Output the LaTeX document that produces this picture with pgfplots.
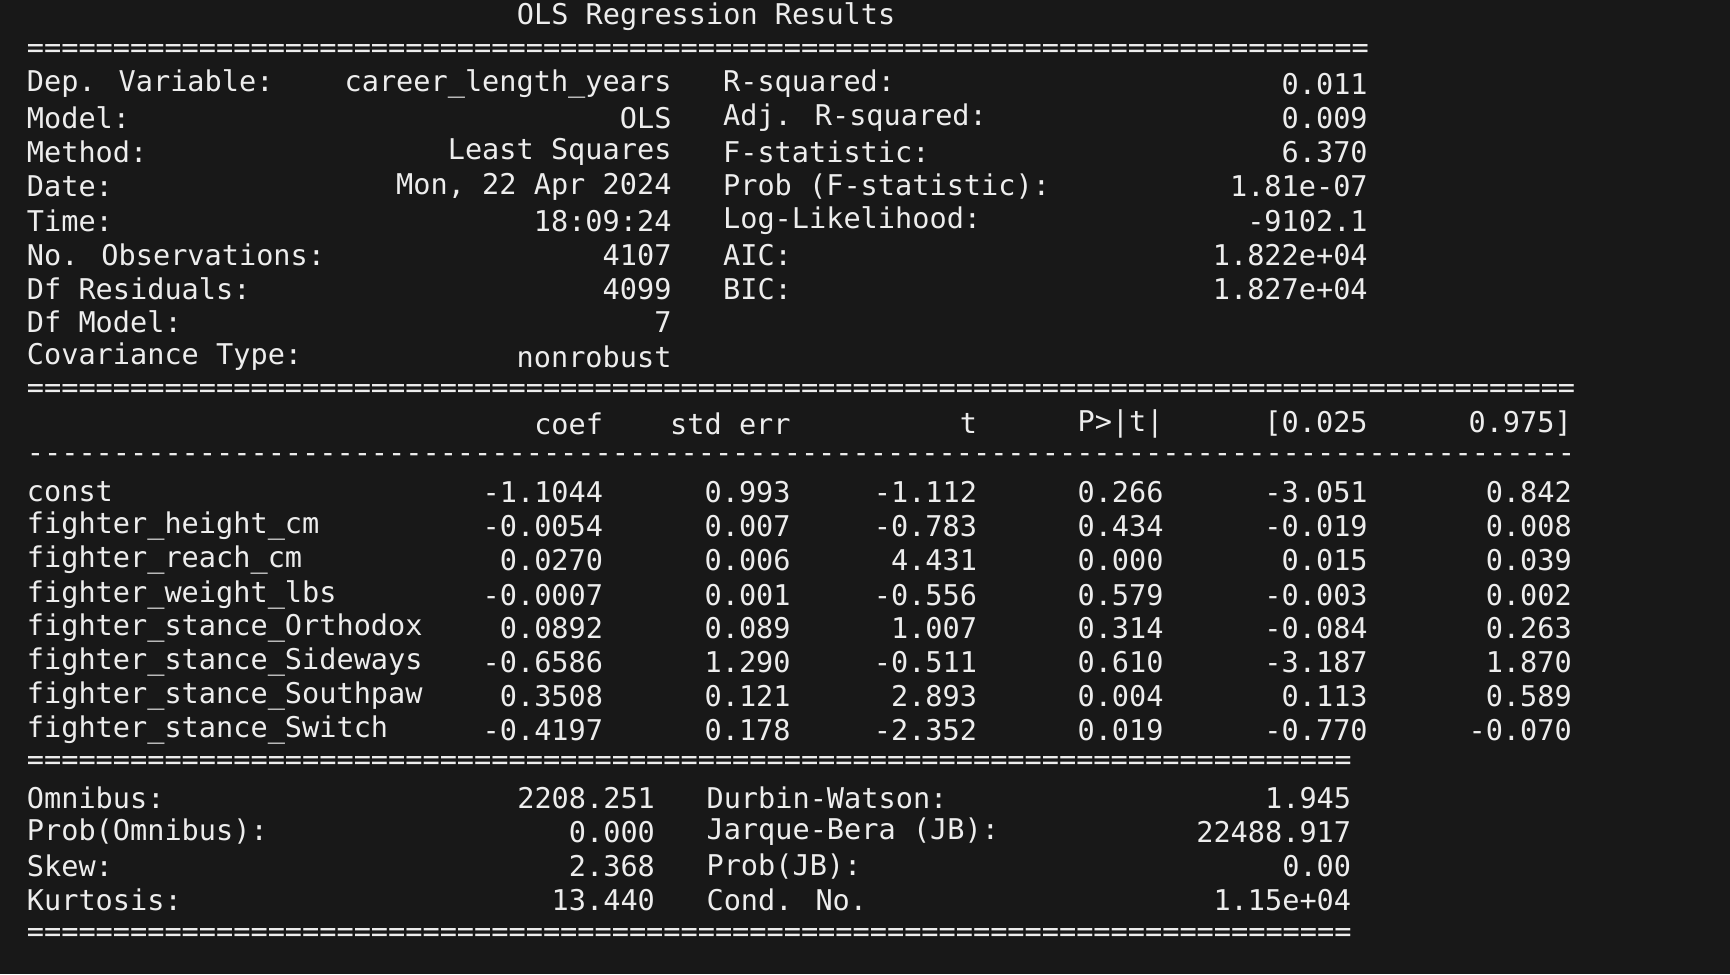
\documentclass[border=0pt]{standalone}
\usepackage{pgfplots}
\pgfplotsset{compat=1.18}
\usepackage{fontspec}
\newfontfamily\mono{DejaVu Sans Mono}
\definecolor{bg}{HTML}{181818}
\definecolor{fg}{HTML}{EDEDED}
\tikzset{tt/.style={inner sep=0pt, text=fg, font=\mono\fontsize{12.95}{15}\selectfont}}
\newcommand\W[3]{\node[tt,anchor=west] at (axis cs:#1,#2) {#3};}
\newcommand\E[3]{\node[tt,anchor=east] at (axis cs:#1,#2) {#3};}
\begin{document}
\begin{tikzpicture}
\begin{axis}[scale only axis, width=784pt, height=441.5pt,
  xmin=0, xmax=1568, ymin=0, ymax=883, y dir=reverse,
  axis lines=none, ticks=none, clip=false,
  axis background/.style={fill=bg, draw=none}]
\node[tt] at (axis cs:640,15) {OLS Regression Results};
\W{24}{46}{==============================================================================}
\W{24}{76}{Dep. Variable:}\E{609}{76}{career\_length\_years}\W{655}{76}{R-squared:}\E{1240}{76}{0.011}
\W{24}{107}{Model:}\E{609}{107}{OLS}\W{655}{107}{Adj. R-squared:}\E{1240}{107}{0.009}
\W{24}{138}{Method:}\E{609}{138}{Least Squares}\W{655}{138}{F-statistic:}\E{1240}{138}{6.370}
\W{24}{169}{Date:}\E{609}{169}{Mon, 22 Apr 2024}\W{655}{169}{Prob (F-statistic):}\E{1240}{169}{1.81e-07}
\W{24}{200}{Time:}\E{609}{200}{18:09:24}\W{655}{200}{Log-Likelihood:}\E{1240}{200}{-9102.1}
\W{24}{231}{No. Observations:}\E{609}{231}{4107}\W{655}{231}{AIC:}\E{1240}{231}{1.822e+04}
\W{24}{262}{Df Residuals:}\E{609}{262}{4099}\W{655}{262}{BIC:}\E{1240}{262}{1.827e+04}
\W{24}{292}{Df Model:}\E{609}{292}{7}
\W{24}{323}{Covariance Type:}\E{609}{323}{nonrobust}
\W{24}{354}{==========================================================================================}
\E{547}{384}{coef}\E{717}{384}{std err}\E{886}{384}{t}\E{1055}{384}{P>|t|}\E{1240}{384}{[0.025}\E{1425}{384}{0.975]}
\W{24}{415}{------------------------------------------------------------------------------------------}
\W{24}{446}{const}\E{547}{446}{-1.1044}\E{717}{446}{0.993}\E{886}{446}{-1.112}\E{1055}{446}{0.266}\E{1240}{446}{-3.051}\E{1425}{446}{0.842}
\W{24}{477}{fighter\_height\_cm}\E{547}{477}{-0.0054}\E{717}{477}{0.007}\E{886}{477}{-0.783}\E{1055}{477}{0.434}\E{1240}{477}{-0.019}\E{1425}{477}{0.008}
\W{24}{508}{fighter\_reach\_cm}\E{547}{508}{0.0270}\E{717}{508}{0.006}\E{886}{508}{4.431}\E{1055}{508}{0.000}\E{1240}{508}{0.015}\E{1425}{508}{0.039}
\W{24}{539}{fighter\_weight\_lbs}\E{547}{539}{-0.0007}\E{717}{539}{0.001}\E{886}{539}{-0.556}\E{1055}{539}{0.579}\E{1240}{539}{-0.003}\E{1425}{539}{0.002}
\W{24}{569}{fighter\_stance\_Orthodox}\E{547}{569}{0.0892}\E{717}{569}{0.089}\E{886}{569}{1.007}\E{1055}{569}{0.314}\E{1240}{569}{-0.084}\E{1425}{569}{0.263}
\W{24}{600}{fighter\_stance\_Sideways}\E{547}{600}{-0.6586}\E{717}{600}{1.290}\E{886}{600}{-0.511}\E{1055}{600}{0.610}\E{1240}{600}{-3.187}\E{1425}{600}{1.870}
\W{24}{631}{fighter\_stance\_Southpaw}\E{547}{631}{0.3508}\E{717}{631}{0.121}\E{886}{631}{2.893}\E{1055}{631}{0.004}\E{1240}{631}{0.113}\E{1425}{631}{0.589}
\W{24}{662}{fighter\_stance\_Switch}\E{547}{662}{-0.4197}\E{717}{662}{0.178}\E{886}{662}{-2.352}\E{1055}{662}{0.019}\E{1240}{662}{-0.770}\E{1425}{662}{-0.070}
\W{24}{692}{=============================================================================}
\W{24}{723}{Omnibus:}\E{594}{723}{2208.251}\W{640}{723}{Durbin-Watson:}\E{1225}{723}{1.945}
\W{24}{754}{Prob(Omnibus):}\E{594}{754}{0.000}\W{640}{754}{Jarque-Bera (JB):}\E{1225}{754}{22488.917}
\W{24}{785}{Skew:}\E{594}{785}{2.368}\W{640}{785}{Prob(JB):}\E{1225}{785}{0.00}
\W{24}{816}{Kurtosis:}\E{594}{816}{13.440}\W{640}{816}{Cond. No.}\E{1225}{816}{1.15e+04}
\W{24}{847}{=============================================================================}
\end{axis}
\end{tikzpicture}
\end{document}
